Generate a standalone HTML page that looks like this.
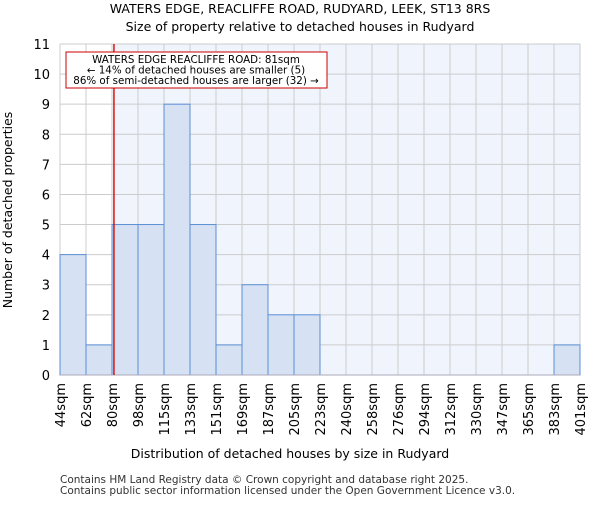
<!DOCTYPE html>
<html><head><meta charset="utf-8"><style>body{margin:0;background:#fff}svg text{font-family:"DejaVu Sans","Liberation Sans",sans-serif}</style></head>
<body>
<svg id="c" width="600" height="500" xmlns="http://www.w3.org/2000/svg">
<text x="300" y="13" text-anchor="middle" font-size="12.5">WATERS EDGE, REACLIFFE ROAD, RUDYARD, LEEK, ST13 8RS</text>
<text x="300" y="31" text-anchor="middle" font-size="12.5">Size of property relative to detached houses in Rudyard</text>
<g id="plot"></g>
<text x="290" y="458" text-anchor="middle" font-size="12.5">Distribution of detached houses by size in Rudyard</text>
<text transform="translate(12,210) rotate(-90)" text-anchor="middle" font-size="12.5">Number of detached properties</text>
<text x="60" y="483" font-size="10.5" fill="#333">Contains HM Land Registry data © Crown copyright and database right 2025.</text>
<text x="60" y="494" font-size="10.5" fill="#333">Contains public sector information licensed under the Open Government Licence v3.0.</text>
</svg>
<script>
const tickLabels=["44sqm","62sqm","80sqm","98sqm","115sqm","133sqm","151sqm","169sqm","187sqm","205sqm","223sqm","240sqm","258sqm","276sqm","294sqm","312sqm","330sqm","347sqm","365sqm","383sqm","401sqm"];
const binEdges=[44,62,80,98,115,133,151,169,187,205,223,240,258,276,294,312,330,347,365,383,401];
const counts=[4,1,5,5,9,5,1,3,2,2,0,0,0,0,0,0,0,0,0,1];
const yTicks=[0,1,2,3,4,5,6,7,8,9,10,11];
const subjectSize=81;
const NS="http://www.w3.org/2000/svg";
const g=document.getElementById('plot');
const X0=60,X1=580,Y0=375,Y1=44,YMAX=11;
const nb=counts.length;
const bx=i=>X0+(X1-X0)*i/nb;
const y=v=>Y0-(Y0-Y1)*v/YMAX;
function sx(v){for(let i=0;i<binEdges.length-1;i++){if(v<=binEdges[i+1]){return bx(i)+(v-binEdges[i])/(binEdges[i+1]-binEdges[i])*(bx(i+1)-bx(i));}}return X1;}
function mk(t,a,p){const e=document.createElementNS(NS,t);for(const k in a)e.setAttribute(k,a[k]);(p||g).appendChild(e);return e;}
const lx=sx(subjectSize)+0.5;
let e;
e=mk('rect',{x:lx,y:Y1,width:X1-lx,height:Y0-Y1,fill:'#f0f4fc'});


yTicks.forEach(t=>{e=mk('line',{x1:X0,x2:X1,y1:y(t),y2:y(t),stroke:'#ccc','stroke-width':1});


e=mk('text',{x:X0-10,y:y(t)+5,'text-anchor':'end','font-size':13});e.textContent=t;

});
for(let i=0;i<=nb;i++){e=mk('line',{x1:bx(i),x2:bx(i),y1:Y1,y2:Y0,stroke:'#ccc','stroke-width':1});

}
counts.forEach((c,i)=>{if(c<=0)return;e=mk('rect',{x:bx(i),y:y(c),width:bx(i+1)-bx(i),height:Y0-y(c),fill:'#d6e1f3',stroke:'#5b8fd6','stroke-width':1});

});
e=mk('line',{x1:X0,x2:X1,y1:Y0,y2:Y0,stroke:'#aab','stroke-width':1});


tickLabels.forEach((t,i)=>{const xx=bx(i);e=mk('text',{transform:`translate(${xx+5},${Y0+8}) rotate(-90)`,'text-anchor':'end','font-size':13});e.textContent=t;

});
e=mk('line',{x1:lx,x2:lx,y1:Y1,y2:Y0,stroke:'#e00000','stroke-width':1.4});


e=mk('rect',{x:66,y:52,width:261,height:36,fill:'#fff',stroke:'#c00','stroke-width':1});


["WATERS EDGE REACLIFFE ROAD: 81sqm","← 14% of detached houses are smaller (5)","86% of semi-detached houses are larger (32) →"].forEach((s,i)=>{e=mk('text',{x:196,y:63+i*10.5,'text-anchor':'middle','font-size':10.3});e.textContent=s;

});
</script>
</body></html>
